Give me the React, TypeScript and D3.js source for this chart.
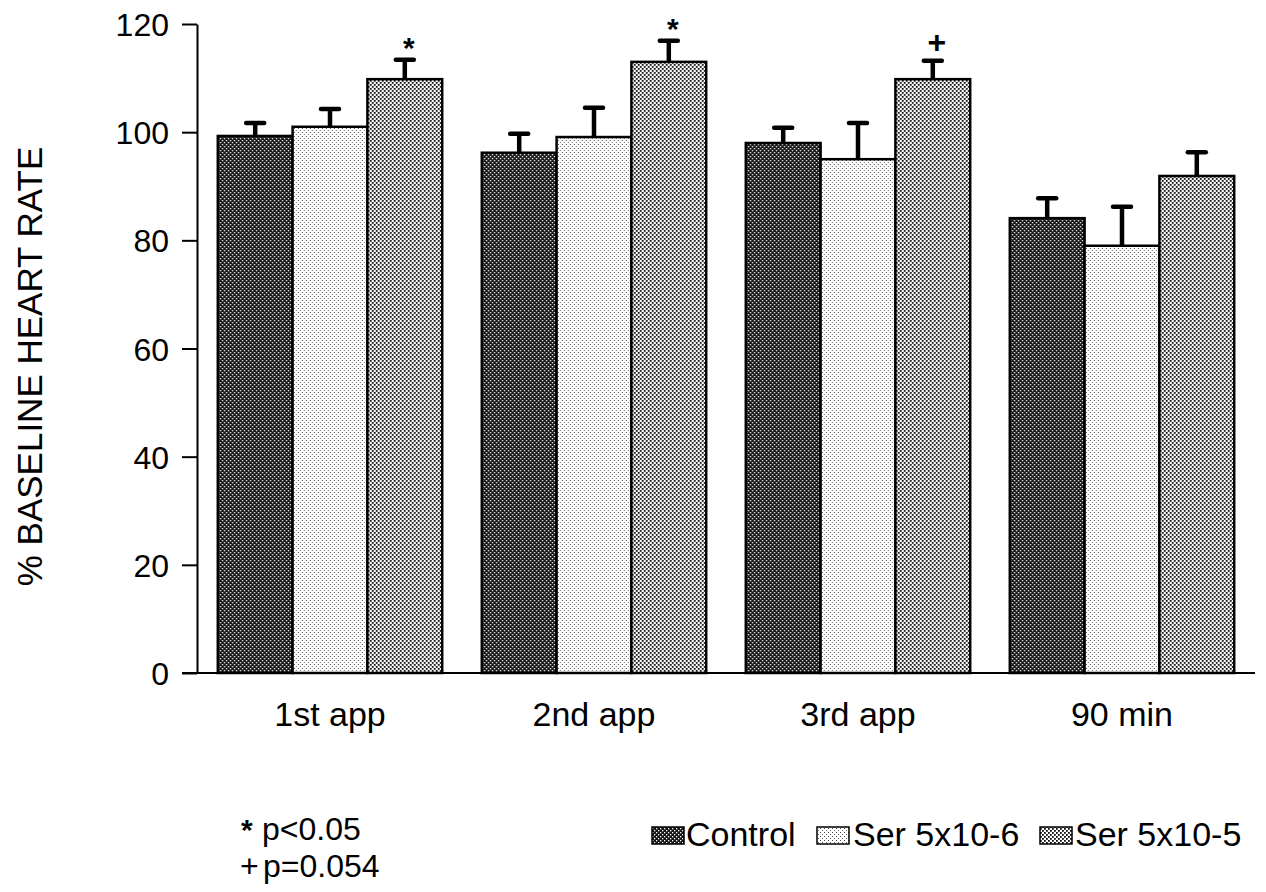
import * as d3 from 'd3';
import { useEffect, useRef } from 'react';

const categories = ['1st app', '2nd app', '3rd app', '90 min'];
const seriesNames = ['Control', 'Ser 5x10-6', 'Ser 5x10-5'];

const controlValues = [99.3, 96.2, 98, 84.1];
const controlErrors = [2.4, 3.5, 2.8, 3.7];
const ser6Values = [101, 99.1, 95, 79];
const ser6Errors = [3.3, 5.4, 6.7, 7.2];
const ser5Values = [109.8, 113, 109.8, 91.9];
const ser5Errors = [3.6, 3.9, 3.4, 4.4];
const ser5Marks = ['*', '*', '+', ''];

const yTicks = [0, 20, 40, 60, 80, 100, 120];

const font = '"Liberation Sans", Arial, sans-serif';

const margin = { top: 24, left: 197, right: 12, bottom: 219 };
const width = 1266;
const height = 892;

const patternIds = ['pat-control', 'pat-ser6', 'pat-ser5'];

function App() {
  const yAxis = useRef<SVGGElement>(null);

  const plotBottom = height - margin.bottom; // 673

  const xScale = d3.scaleBand<string>()
    .domain(categories)
    .range([198, 1254])
    .paddingInner(0.15)
    .paddingOuter(0.075);

  const xInner = d3.scaleBand<string>()
    .domain(seriesNames)
    .range([0, xScale.bandwidth()]);

  const yScale = d3.scaleLinear().domain([0, 120]).range([plotBottom, margin.top]);

  const rows = categories.map((c, i) => ({
    category: c,
    bars: [
      { name: seriesNames[0], value: controlValues[i], err: controlErrors[i], mark: '' },
      { name: seriesNames[1], value: ser6Values[i], err: ser6Errors[i], mark: '' },
      { name: seriesNames[2], value: ser5Values[i], err: ser5Errors[i], mark: ser5Marks[i] },
    ],
  }));

  useEffect(() => {
    const axis = d3.axisLeft(yScale).tickValues(yTicks).tickSize(15).tickSizeOuter(0).tickPadding(13);
    const g = d3.select(yAxis.current!).call(axis);
    g.attr('font-size', 32).attr('font-family', font);
    g.select('.domain').attr('stroke', '#000').attr('stroke-width', 2);
    g.selectAll('.tick line').attr('stroke', '#000').attr('stroke-width', 2);
    g.selectAll('.tick text')
      .attr('font-family', font)
      .attr('font-size', 32)
      .attr('fill', '#000')
      .attr('dy', '0.36em');
  }, []);

  const legendItems = [
    { name: seriesNames[0], box: 652, text: 686 },
    { name: seriesNames[1], box: 817, text: 853 },
    { name: seriesNames[2], box: 1040, text: 1075 },
  ];

  return (
    <svg width={width} height={height} style={{ position: 'absolute', left: 0, top: 0, background: '#fff' }}>
      <defs>
        <pattern id="pat-control" width="4" height="4" patternUnits="userSpaceOnUse">
          <rect width="4" height="4" fill="#141414" />
          <rect x="0" y="0" width="1.3" height="1.3" fill="#fff" />
          <rect x="2" y="2" width="1.3" height="1.3" fill="#fff" />
        </pattern>
        <pattern id="pat-ser6" width="4" height="4" patternUnits="userSpaceOnUse">
          <rect width="4" height="4" fill="#fff" />
          <rect x="0" y="0" width="1" height="1" fill="#444" />
          <rect x="2" y="2" width="1" height="1" fill="#666" />
        </pattern>
        <pattern id="pat-ser5" width="4" height="4" patternUnits="userSpaceOnUse">
          <rect width="4" height="4" fill="#fff" />
          <rect x="0" y="0" width="1.8" height="1.8" fill="#111" />
          <rect x="2" y="2" width="1.8" height="1.8" fill="#111" />
        </pattern>
      </defs>

      {rows.map((row) => (
        <g key={row.category} transform={`translate(${xScale(row.category)},0)`}>
          {row.bars.map((b, j) => {
            const x = xInner(b.name)!;
            const w = xInner.bandwidth();
            const cx = x + w / 2;
            const top = yScale(b.value);
            const errTop = yScale(b.value + b.err);
            const isStar = b.mark === '*';
            return (
              <g key={b.name}>
                <rect x={x} y={top} width={w} height={plotBottom - top}
                  fill={`url(#${patternIds[j]})`} stroke="#000" strokeWidth={2.5} />
                <line x1={cx} x2={cx} y1={top} y2={errTop} stroke="#000" strokeWidth={4.5} />
                <line x1={cx - 9} x2={cx + 9} y1={errTop} y2={errTop} stroke="#000" strokeWidth={4.5} strokeLinecap="round" />
                {b.mark && (
                  <text x={cx + 4} y={errTop - (isStar ? 2 : 8)} textAnchor="middle" fontFamily={font}
                    fontSize={isStar ? 30 : 32} fontWeight="bold">{b.mark}</text>
                )}
              </g>
            );
          })}
          <text x={xScale.bandwidth() / 2} y={726} textAnchor="middle" fontFamily={font} fontSize={34}>{row.category}</text>
        </g>
      ))}

      <line x1={182} x2={1255} y1={plotBottom} y2={plotBottom} stroke="#000" strokeWidth={2} />
      <g ref={yAxis} transform={`translate(${margin.left},0)`}></g>

      <text transform={`translate(42,${(margin.top + plotBottom) / 2 + 18}) rotate(-90)`} textAnchor="middle"
        fontFamily={font} fontSize={35}>% BASELINE HEART RATE</text>

      <text x={241} y={840} fontFamily={font} fontSize={30} fontWeight="bold">*</text>
      <text x={262} y={840} fontFamily={font} fontSize={32}>p&lt;0.05</text>
      <text x={240} y={877} fontFamily={font} fontSize={32}>+</text>
      <text x={263} y={877} fontFamily={font} fontSize={32}>p=0.054</text>

      {legendItems.map((it, j) => (
        <g key={it.name}>
          <rect x={it.box} y={827} width={32} height={17} fill={`url(#${patternIds[j]})`} stroke="#000" strokeWidth={1.5} />
          <text x={it.text} y={846} fontFamily={font} fontSize={34}>{it.name}</text>
        </g>
      ))}
    </svg>
  );
}

export default App;
